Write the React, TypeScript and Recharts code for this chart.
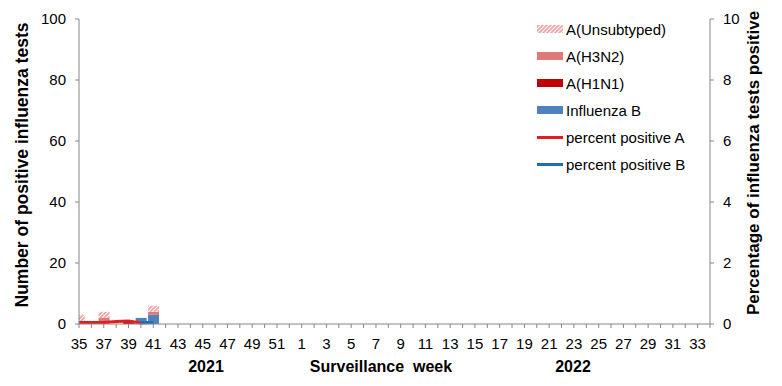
import React from 'react';
import { ComposedChart, Bar, Line, XAxis, YAxis } from 'recharts';

// weeks 35-52 of 2021, then 1-34 of 2022
const weeks = [
  35, 36, 37, 38, 39, 40, 41, 42, 43, 44, 45, 46, 47, 48, 49, 50, 51, 52,
  1, 2, 3, 4, 5, 6, 7, 8, 9, 10, 11, 12, 13, 14, 15, 16, 17, 18, 19, 20,
  21, 22, 23, 24, 25, 26, 27, 28, 29, 30, 31, 32, 33, 34,
];

// counts for weeks 35..41, nothing reported after
const unsubtyped = [2, 1, 2, 0, 0, 0, 2];
const h3n2 = [1, 0, 2, 0, 0, 0, 1];
const h1n1 = [0, 0, 0, 0, 1, 0, 0];
const fluB = [0, 0, 0, 0, 0, 2, 3];
const pctA = [0.05, 0.05, 0.05, 0.08, 0.1, 0.03, 0.05];
const pctB = [null, null, null, null, null, 0.05, 0.05];

const leftTicks = [0, 20, 40, 60, 80, 100];
const rightTicks = [0, 2, 4, 6, 8, 10];

const COLORS = {
  unsub: '#e8a3a3',
  h3n2: '#e07a7a',
  h1n1: '#c00000',
  fluB: '#4f81bd',
  lineA: '#e41e1e',
  lineB: '#1a6fb8',
  axis: '#868686',
};

const legendItems = [
  { label: 'A(Unsubtyped)', kind: 'hatch', color: COLORS.unsub },
  { label: 'A(H3N2)', kind: 'bar', color: COLORS.h3n2 },
  { label: 'A(H1N1)', kind: 'bar', color: COLORS.h1n1 },
  { label: 'Influenza B', kind: 'bar', color: COLORS.fluB },
  { label: 'percent positive A', kind: 'line', color: COLORS.lineA },
  { label: 'percent positive B', kind: 'line', color: COLORS.lineB },
];

const data = weeks.map((w, i) => ({
  idx: i,
  week: w,
  unsub: unsubtyped[i] ?? null,
  h3n2: h3n2[i] ?? null,
  h1n1: h1n1[i] ?? null,
  fluB: fluB[i] ?? null,
  pctA: pctA[i] ?? null,
  pctB: pctB[i] ?? null,
}));

const allTicks = weeks.map((_, i) => i);
const font = '"Liberation Sans", Arial, sans-serif';

const Swatch = ({ kind, color }) => {
  if (kind === 'line') {
    return <div style={{ width: 26, height: 3, background: color }} />;
  }
  if (kind === 'hatch') {
    return (
      <svg width={26} height={8} style={{ display: 'block' }}>
        <rect width={26} height={8} fill="url(#hatchLegend)" />
      </svg>
    );
  }
  return <div style={{ width: 26, height: 8, background: color }} />;
};

export default function App() {
  return (
    <div style={{ position: 'relative', width: 766, height: 370, fontFamily: font }}>
      <svg width={0} height={0} style={{ position: 'absolute' }}>
        <defs>
          <pattern id="hatchLegend" width={4} height={4} patternUnits="userSpaceOnUse">
            <rect width={4} height={4} fill={COLORS.unsub} />
            <path d="M-1,1 l2,-2 M0,4 l4,-4 M3,5 l2,-2" stroke="#fff" strokeWidth={1.2} />
          </pattern>
        </defs>
      </svg>
      <ComposedChart
        width={766}
        height={370}
        data={data}
        margin={{ top: 11, right: 24, left: 21, bottom: 24 }}
      >
        <defs>
          <pattern id="hatch" width={4} height={4} patternUnits="userSpaceOnUse">
            <rect width={4} height={4} fill={COLORS.unsub} />
            <path d="M-1,1 l2,-2 M0,4 l4,-4 M3,5 l2,-2" stroke="#fff" strokeWidth={1.2} />
          </pattern>
        </defs>
        <XAxis
          dataKey="idx"
          type="number"
          domain={[0, 51]}
          ticks={allTicks}
          interval={0}
          allowDataOverflow
          height={30}
          tickSize={4}
          tickMargin={10}
          stroke={COLORS.axis}
          tick={{ fill: '#000', fontSize: 15 }}
          tickFormatter={(v) => (v % 2 === 0 ? String(weeks[v]) : '')}
        />
        <YAxis
          yAxisId="left"
          domain={[0, 100]}
          ticks={leftTicks}
          width={50}
          tickSize={4}
          tickMargin={9}
          stroke={COLORS.axis}
          tick={{ fill: '#000', fontSize: 15 }}
        />
        <YAxis
          yAxisId="right"
          orientation="right"
          domain={[0, 10]}
          ticks={rightTicks}
          width={40}
          tickSize={4}
          tickMargin={9}
          stroke={COLORS.axis}
          tick={{ fill: '#000', fontSize: 15, textAnchor: 'start' }}
        />
        <Bar yAxisId="left" dataKey="fluB" stackId="a" barSize={11} fill={COLORS.fluB} isAnimationActive={false} />
        <Bar yAxisId="left" dataKey="h1n1" stackId="a" barSize={11} fill={COLORS.h1n1} isAnimationActive={false} />
        <Bar yAxisId="left" dataKey="h3n2" stackId="a" barSize={11} fill={COLORS.h3n2} isAnimationActive={false} />
        <Bar yAxisId="left" dataKey="unsub" stackId="a" barSize={11} fill="url(#hatch)" isAnimationActive={false} />
        <Line yAxisId="right" dataKey="pctA" stroke={COLORS.lineA} strokeWidth={3} dot={false} isAnimationActive={false} />
        <Line yAxisId="right" dataKey="pctB" stroke={COLORS.lineB} strokeWidth={3} dot={false} isAnimationActive={false} />
      </ComposedChart>

      {/* legend */}
      {legendItems.map((item, i) => (
        <div
          key={item.label}
          style={{
            position: 'absolute',
            left: 529,
            top: 21 + 27 * i - 9,
            height: 18,
            display: 'flex',
            alignItems: 'center',
            fontSize: 15,
            color: '#000',
          }}
        >
          <Swatch kind={item.kind} color={item.color} />
          <span style={{ marginLeft: 3 }}>{item.label}</span>
        </div>
      ))}

      {/* axis titles */}
      <div
        style={{
          position: 'absolute',
          left: 14,
          top: 157,
          transform: 'translate(-50%, -50%) rotate(-90deg)',
          whiteSpace: 'nowrap',
          fontWeight: 'bold',
          fontSize: 17.5,
        }}
      >
        Number of positive influenza tests
      </div>
      <div
        style={{
          position: 'absolute',
          left: 746,
          top: 155,
          transform: 'translate(-50%, -50%) rotate(-90deg)',
          whiteSpace: 'nowrap',
          fontWeight: 'bold',
          fontSize: 17,
        }}
      >
        Percentage of influenza tests positive
      </div>
      {[
        { text: '2021', x: 198 },
        { text: 'Surveillance  week', x: 373 },
        { text: '2022', x: 565 },
      ].map((t) => (
        <div
          key={t.text}
          style={{
            position: 'absolute',
            left: t.x,
            top: 359,
            transform: 'translate(-50%, -50%)',
            whiteSpace: 'pre',
            fontWeight: 'bold',
            fontSize: 16,
          }}
        >
          {t.text}
        </div>
      ))}
    </div>
  );
}
